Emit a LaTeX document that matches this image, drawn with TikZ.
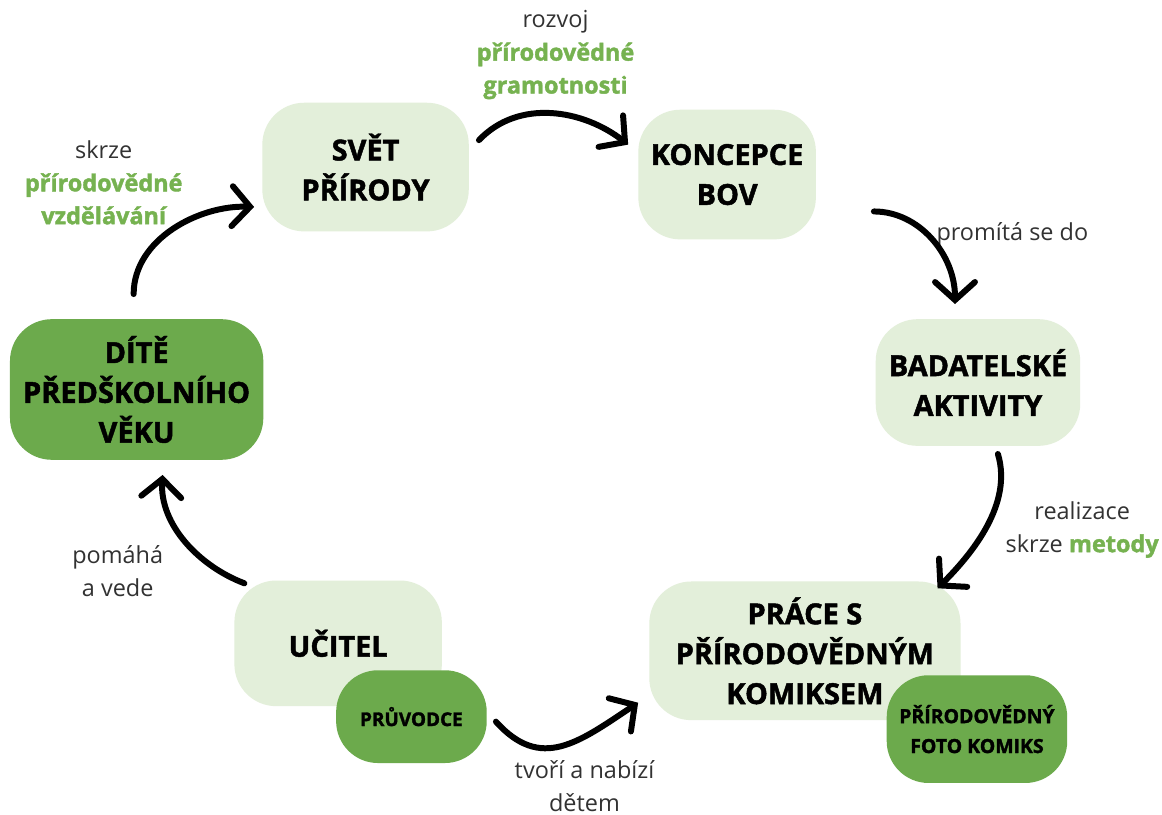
\documentclass[tikz,border=0pt]{standalone}
\usepackage{fontspec}
\setmainfont{Open Sans}[BoldFeatures={FakeBold=1.6}]
\usetikzlibrary{arrows.meta}

\definecolor{palegreen}{RGB}{227,239,218}
\definecolor{leafgreen}{RGB}{108,170,76}
\definecolor{txtgreen}{RGB}{118,178,80}
\definecolor{txtgray}{RGB}{50,50,50}

\tikzset{
  lightbox/.style={fill=palegreen, rounded corners=42pt, inner sep=0pt, align=center,
    font=\fontsize{29}{40}\selectfont\bfseries},
  darkbox/.style={lightbox, fill=leafgreen},
  note/.style={align=center, text=txtgray, font=\fontsize{23.5}{33}\selectfont},
  flow/.style={line width=6pt, line cap=round,
    -{Straight Barb[length=18pt,width=40pt,line cap=round]}},
}
\newcommand{\grn}[1]{{\color{txtgreen}\bfseries #1}}

\begin{document}
\begin{tikzpicture}[x=1pt, y=-1pt]

  \fill[white] (0,0) rectangle (1162,812);

  % boxes
  \node[lightbox, minimum width=207, minimum height=129] (svet) at (366.5,167.5) {SVĚT\\PŘÍRODY};
  \node[lightbox, minimum width=178, minimum height=130] (koncepce) at (729,175) {KONCEPCE\\BOV};
  \node[lightbox, minimum width=205, minimum height=127] (badatel) at (980.5,383.5) {BADATELSKÉ\\AKTIVITY};
  \node[lightbox, minimum width=312, minimum height=139] (komiks) at (807,652.5) {PRÁCE S\\PŘÍRODOVĚDNÝM\\KOMIKSEM};
  \node[darkbox, minimum width=181, minimum height=108, font=\fontsize{19.5}{30}\selectfont\bfseries] (fotokomiks) at (979.5,731) {PŘÍRODOVĚDNÝ\\FOTO KOMIKS};
  \node[lightbox, minimum width=208, minimum height=126] (ucitel) at (339,645) {UČITEL};
  \node[darkbox, minimum width=151, minimum height=93, font=\fontsize{19}{26}\selectfont\bfseries] (pruvodce) at (412.5,718.5) {PRŮVODCE};
  \node[darkbox, minimum width=254, minimum height=141] (dite) at (137,390.5) {DÍTĚ\\PŘEDŠKOLNÍHO\\VĚKU};

  % labels
  \node[note] (rozvoj) at (557,55) {rozvoj\\\grn{přírodovědné}\\\grn{gramotnosti}};
  \node[note] (skrze) at (104,183) {skrze\\\grn{přírodovědné}\\\grn{vzdělávání}};
  \node[note] (promita) at (1015,235) {promítá se do};
  \node[note] (realizace) at (1085,531) {realizace\\skrze \grn{metody}};
  \node[note] (pomaha) at (118,573) {pomáhá\\a vede};
  \node[note] (tvori) at (586,788) {tvoří a nabízí\\dětem};

  % arrows
  \draw[flow] ([shift={(10,-27)}]svet.east) .. controls +(40,-42) and +(-45,-35) .. ([shift={(-10,-30)}]koncepce.west);
  \draw[flow] ([shift={(58,37)}]koncepce.east) .. controls +(45,0) and +(0,-50) .. ([shift={(-23,-15)}]badatel.north);
  \draw[flow] ([shift={(20,8)}]badatel.south) .. controls +(15,50) and +(35,-35) .. ([shift={(133,7)}]komiks.north);
  \draw[flow] ([shift={(9,5)}]pruvodce.east) .. controls +(45,50) and +(-60,40) .. ([shift={(-11,52)}]komiks.west);
  \draw[flow] ([shift={(-94,3)}]ucitel.north) .. controls +(-45,-17) and +(-3,50) .. ([shift={(26,15)}]dite.south);
  \draw[flow] ([shift={(-3,-25)}]dite.north) .. controls +(0,-55) and +(-55,-2) .. ([shift={(-8,40)}]svet.west);

\end{tikzpicture}
\end{document}
